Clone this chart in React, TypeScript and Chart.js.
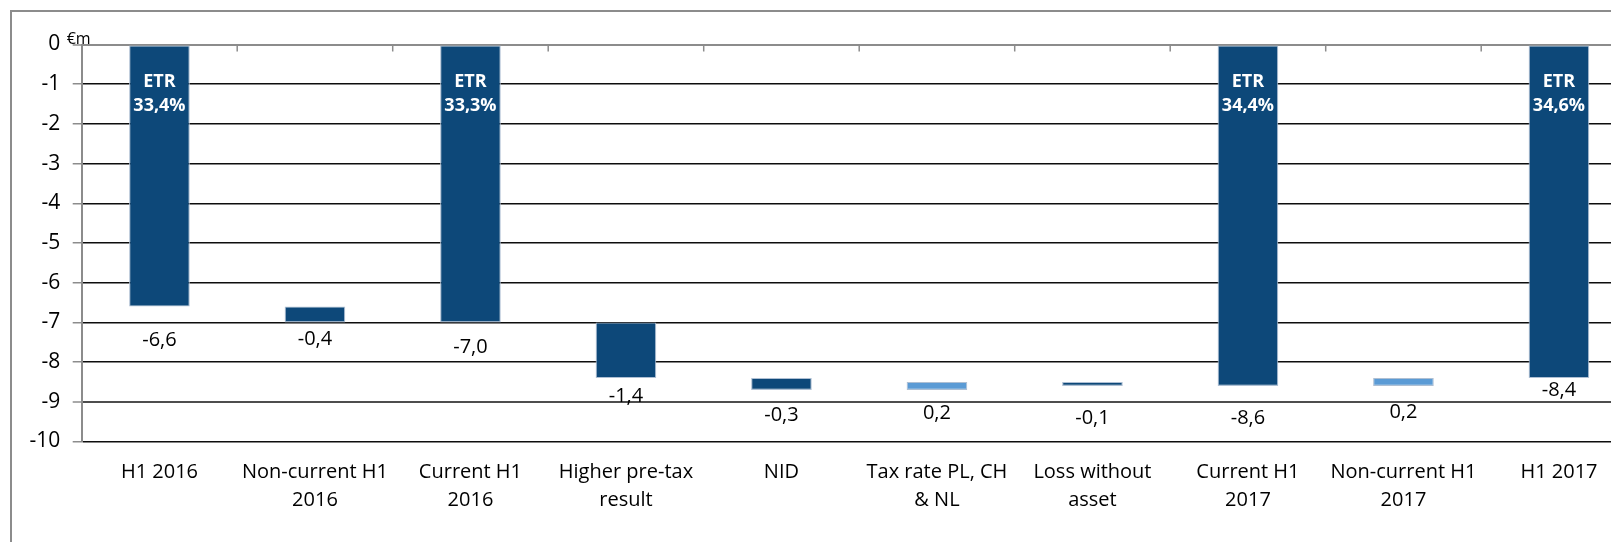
import React, { useEffect, useRef } from 'react';
import { Chart, registerables } from 'chart.js';

Chart.register(...registerables);

// Effective tax bridge, €m
const categories: (string | string[])[] = [
  'H1 2016',
  ['Non-current H1', '2016'],
  ['Current H1', '2016'],
  ['Higher pre-tax', 'result'],
  'NID',
  ['Tax rate PL, CH', '& NL'],
  ['Loss without', 'asset'],
  ['Current H1', '2017'],
  ['Non-current H1', '2017'],
  'H1 2017',
];

// Step change for each bar; totals restart from zero
const stepValues = [-6.6, -0.4, -7.0, -1.4, -0.3, 0.2, -0.1, -8.6, 0.2, -8.4];
const isTotal = [true, false, true, false, false, false, false, true, false, true];
const etrLabels = ['33,4%', '', '33,3%', '', '', '', '', '34,4%', '', '34,6%'];

const yMin = -10;
const yMax = 0;
const yStep = 1;

// Visual styling
const DARK = '#0d4879';
const LIGHT = '#5b9bd5';
const BAR_EDGE = '#aebfd3';
const AXIS_GREY = '#8c8c8c';
const FONT = '"Open Sans", "DejaVu Sans", sans-serif';
// vertical gap (px) from the lower bar end to each value label's centre
const labelGap = [34, 17, 25, 18.5, 25, 23, 32, 32, 26, 12];

const CANVAS_W = 1700;
const CANVAS_H = 542;
const PLOT_LEFT = 81.7;
const PLOT_TOP = 44.5;
const PLOT_RIGHT = 1636.7;
const PLOT_BOTTOM = 441.5;

function buildRanges(): [number, number][] {
  let running = 0;
  return stepValues.map((v, i) => {
    if (isTotal[i]) {
      running = v;
      return [0, v];
    }
    const start = running;
    running = Math.round((running + v) * 10) / 10;
    return [start, running];
  });
}

const fmt = (v: number) => v.toFixed(1).replace('.', ',');

const labelPlugin = {
  id: 'bridgeLabels',
  afterDatasetsDraw(chart: any) {
    const { ctx, scales } = chart;
    const meta = chart.getDatasetMeta(0);
    const y = scales.y;
    ctx.save();
    ctx.textAlign = 'center';
    ctx.textBaseline = 'middle';
    meta.data.forEach((bar: any, i: number) => {
      const range = chart.data.datasets[0].data[i] as [number, number];
      const lower = Math.min(range[0], range[1]);
      const yLow = y.getPixelForValue(lower);
      ctx.fillStyle = '#000';
      ctx.font = `20px ${FONT}`;
      ctx.fillText(fmt(stepValues[i]), bar.x, yLow + labelGap[i]);
      if (etrLabels[i]) {
        const yTop = y.getPixelForValue(0);
        ctx.fillStyle = '#ffffff';
        ctx.font = `bold 18px ${FONT}`;
        ctx.fillText('ETR', bar.x, yTop + 37);
        ctx.fillText(etrLabels[i], bar.x, yTop + 61.5);
      }
    });
    ctx.restore();
  },
};

const axisExtrasPlugin = {
  id: 'axisExtras',
  afterDraw(chart: any) {
    const { ctx, chartArea, scales } = chart;
    const y0 = scales.y.getPixelForValue(0);
    const n = categories.length;
    const w = (chartArea.right - chartArea.left) / n;
    ctx.save();
    // category boundary ticks hanging from the zero line
    ctx.strokeStyle = AXIS_GREY;
    ctx.lineWidth = 1.5;
    for (let i = 1; i <= n; i++) {
      const x = chartArea.left + i * w;
      ctx.beginPath();
      ctx.moveTo(x, y0);
      ctx.lineTo(x, y0 + 7);
      ctx.stroke();
    }
    // unit label
    ctx.fillStyle = '#000';
    ctx.font = `16px ${FONT}`;
    ctx.textAlign = 'left';
    ctx.textBaseline = 'middle';
    ctx.fillText('€m', chartArea.left - 15, y0 - 5);
    ctx.restore();
  },
};

export default function App() {
  const canvasRef = useRef<HTMLCanvasElement | null>(null);

  useEffect(() => {
    if (!canvasRef.current) return;
    const ranges = buildRanges();
    const colors = stepValues.map((v, i) => (!isTotal[i] && v > 0 ? LIGHT : DARK));
    const chart = new Chart(canvasRef.current, {
      type: 'bar',
      data: {
        labels: categories,
        datasets: [
          {
            data: ranges as any,
            backgroundColor: colors,
            borderColor: BAR_EDGE,
            borderWidth: 1.1,
            borderSkipped: false,
            categoryPercentage: 1,
            barPercentage: 0.39,
          },
        ],
      },
      options: {
        responsive: false,
        animation: false,
        layout: {
          padding: { left: 0, top: PLOT_TOP, right: CANVAS_W - PLOT_RIGHT, bottom: 0 },
        },
        plugins: {
          legend: { display: false },
          tooltip: { enabled: false },
        },
        scales: {
          x: {
            offset: true,
            grid: { display: false, drawTicks: false },
            border: { display: false },
            ticks: {
              padding: 16.5,
              color: '#000',
              maxRotation: 0,
              autoSkip: false,
              font: { family: FONT, size: 20, lineHeight: 1.4 },
            },
            afterFit: (scale: any) => {
              scale.height = CANVAS_H - PLOT_BOTTOM;
            },
          },
          y: {
            min: yMin,
            max: yMax,
            grid: {
              color: (c: any) =>
                c.tick && c.tick.value === 0 ? AXIS_GREY : c.tick && c.tick.value === -9 ? '#4d4d4d' : '#0d0d0d',
              lineWidth: (c: any) =>
                c.tick && (c.tick.value === 0 || c.tick.value === -9) ? 2 : 1.5,
              tickColor: AXIS_GREY,
              tickLength: 9,
              tickWidth: 1.5,
            },
            border: { color: AXIS_GREY, width: 2 },
            ticks: {
              stepSize: yStep,
              padding: 12.5,
              color: '#000',
              font: { family: FONT, size: 21 },
              callback: (v: any) => String(v),
            },
            afterFit: (scale: any) => {
              scale.width = PLOT_LEFT;
            },
          },
        },
      },
      plugins: [labelPlugin, axisExtrasPlugin],
    });
    return () => chart.destroy();
  }, []);

  return (
    <div
      style={{
        position: 'absolute',
        left: 0,
        top: 0,
        width: 1611,
        height: 542,
        overflow: 'hidden',
        background: '#fff',
      }}
    >
      <div
        style={{
          position: 'absolute',
          left: 10,
          top: 10,
          width: 1680,
          height: 600,
          border: `2px solid ${AXIS_GREY}`,
          boxSizing: 'border-box',
        }}
      />
      <canvas
        ref={canvasRef}
        width={CANVAS_W}
        height={CANVAS_H}
        style={{ position: 'absolute', left: 0, top: 0, width: CANVAS_W, height: CANVAS_H }}
      />
    </div>
  );
}
